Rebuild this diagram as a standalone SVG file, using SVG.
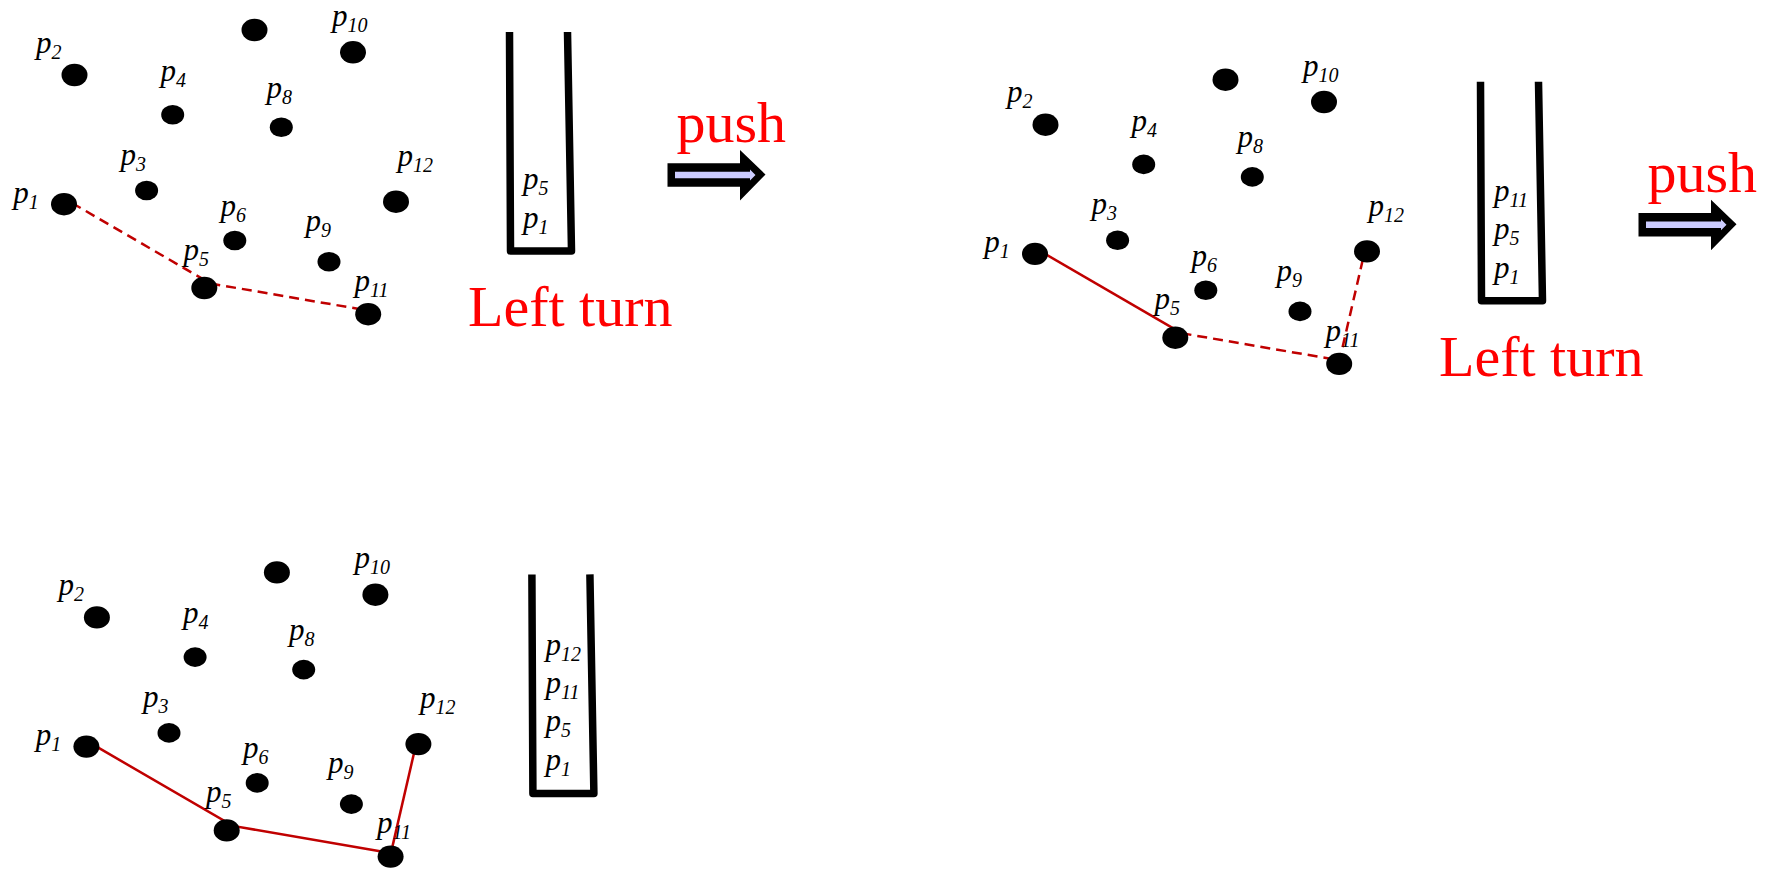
<svg xmlns="http://www.w3.org/2000/svg" xmlns:xlink="http://www.w3.org/1999/xlink" width="1777" height="869" viewBox="0 0 1777 869">
<style>
.lbl{font-family:"Liberation Serif","Times New Roman",serif;font-style:italic;font-size:31px;fill:#000}
.sub{font-size:20px}
.red{font-family:"Liberation Serif","Times New Roman",serif;font-size:58px;fill:#ff0000}
.dot{fill:#000}
.stack{fill:none;stroke:#000;stroke-width:7.5;stroke-linejoin:round}
.edge{fill:none;stroke:#c00000;stroke-width:2.5}
.dash{stroke-dasharray:10,6}
</style>
<defs>
<g id="arrowShape">
<polygon points="667.5,163.3 740,163.3 740,150 765.5,174.5 740,200.5 740,186.7 667.5,186.7" fill="#000"/>
<polygon points="675,171.7 750,171.7 750,169.5 755.5,175 750,180.5 750,178.3 675,178.3" fill="#ccccff"/>
</g>
</defs>

<!-- Panel 1 -->
<g id="panel1">
<g id="connectors1">
<polyline class="edge dash" points="72,203 210.5,283.5 362,309.5"/>
</g>
<g id="n1-p7"><ellipse class="dot" cx="254.5" cy="30" rx="13" ry="11.2"/></g>
<g id="n1-p10"><ellipse class="dot" cx="353" cy="52.3" rx="13" ry="11.2"/><text class="lbl" x="332" y="26">p<tspan class="sub" dy="6">10</tspan></text></g>
<g id="n1-p2"><ellipse class="dot" cx="74.5" cy="75" rx="13" ry="11.2"/><text class="lbl" x="36" y="52.5">p<tspan class="sub" dy="6">2</tspan></text></g>
<g id="n1-p4"><ellipse class="dot" cx="172.7" cy="114.7" rx="11.5" ry="9.8"/><text class="lbl" x="160.5" y="81">p<tspan class="sub" dy="6">4</tspan></text></g>
<g id="n1-p8"><ellipse class="dot" cx="281.3" cy="127.2" rx="11.5" ry="9.8"/><text class="lbl" x="266.5" y="97.5">p<tspan class="sub" dy="6">8</tspan></text></g>
<g id="n1-p3"><ellipse class="dot" cx="146.6" cy="190.5" rx="11.5" ry="9.8"/><text class="lbl" x="120.5" y="164.5">p<tspan class="sub" dy="6">3</tspan></text></g>
<g id="n1-p12"><ellipse class="dot" cx="396" cy="201.7" rx="13" ry="11.2"/><text class="lbl" x="397.5" y="166">p<tspan class="sub" dy="6">12</tspan></text></g>
<g id="n1-p1"><ellipse class="dot" cx="64" cy="204.2" rx="13" ry="11.2"/><text class="lbl" x="13.3" y="202.5">p<tspan class="sub" dy="6">1</tspan></text></g>
<g id="n1-p6"><ellipse class="dot" cx="234.8" cy="240.5" rx="11.5" ry="9.8"/><text class="lbl" x="220.5" y="216">p<tspan class="sub" dy="6">6</tspan></text></g>
<g id="n1-p9"><ellipse class="dot" cx="329" cy="261.7" rx="11.5" ry="9.8"/><text class="lbl" x="305.5" y="231">p<tspan class="sub" dy="6">9</tspan></text></g>
<g id="n1-p5"><ellipse class="dot" cx="204.3" cy="288" rx="13" ry="11.2"/><text class="lbl" x="183.5" y="259.5">p<tspan class="sub" dy="6">5</tspan></text></g>
<g id="n1-p11"><ellipse class="dot" cx="368.2" cy="314.2" rx="13" ry="11.2"/><text class="lbl" x="354.5" y="291">p<tspan class="sub" dy="6">11</tspan></text></g>
<g id="stack1">
<path class="stack" d="M509.5,32 L510.5,251 L571.5,251 L567.5,32"/>
<text class="lbl" x="523" y="189">p<tspan class="sub" dy="6">5</tspan></text>
<text class="lbl" x="523" y="228">p<tspan class="sub" dy="6">1</tspan></text>
</g>
<text class="red" x="468" y="326">Left turn</text>
<text class="red" x="676.5" y="142">push</text>
<g id="arrow1"><use xlink:href="#arrowShape" href="#arrowShape"/></g>
</g>

<!-- Panel 2 -->
<g id="panel2" transform="translate(971,49.7)">
<g id="connectors2">
<line class="edge" x1="72" y1="203" x2="210.5" y2="283.5"/>
<line class="edge dash" x1="210.5" y1="283.5" x2="362" y2="309.5"/>
<line class="edge dash" x1="368" y1="313" x2="395" y2="196"/>
</g>
<g id="n2-p7"><ellipse class="dot" cx="254.5" cy="30" rx="13" ry="11.2"/></g>
<g id="n2-p10"><ellipse class="dot" cx="353" cy="52.3" rx="13" ry="11.2"/><text class="lbl" x="332" y="26">p<tspan class="sub" dy="6">10</tspan></text></g>
<g id="n2-p2"><ellipse class="dot" cx="74.5" cy="75" rx="13" ry="11.2"/><text class="lbl" x="36" y="52.5">p<tspan class="sub" dy="6">2</tspan></text></g>
<g id="n2-p4"><ellipse class="dot" cx="172.7" cy="114.7" rx="11.5" ry="9.8"/><text class="lbl" x="160.5" y="81">p<tspan class="sub" dy="6">4</tspan></text></g>
<g id="n2-p8"><ellipse class="dot" cx="281.3" cy="127.2" rx="11.5" ry="9.8"/><text class="lbl" x="266.5" y="97.5">p<tspan class="sub" dy="6">8</tspan></text></g>
<g id="n2-p3"><ellipse class="dot" cx="146.6" cy="190.5" rx="11.5" ry="9.8"/><text class="lbl" x="120.5" y="164.5">p<tspan class="sub" dy="6">3</tspan></text></g>
<g id="n2-p12"><ellipse class="dot" cx="396" cy="201.7" rx="13" ry="11.2"/><text class="lbl" x="397.5" y="166">p<tspan class="sub" dy="6">12</tspan></text></g>
<g id="n2-p1"><ellipse class="dot" cx="64" cy="204.2" rx="13" ry="11.2"/><text class="lbl" x="13.3" y="202.5">p<tspan class="sub" dy="6">1</tspan></text></g>
<g id="n2-p6"><ellipse class="dot" cx="234.8" cy="240.5" rx="11.5" ry="9.8"/><text class="lbl" x="220.5" y="216">p<tspan class="sub" dy="6">6</tspan></text></g>
<g id="n2-p9"><ellipse class="dot" cx="329" cy="261.7" rx="11.5" ry="9.8"/><text class="lbl" x="305.5" y="231">p<tspan class="sub" dy="6">9</tspan></text></g>
<g id="n2-p5"><ellipse class="dot" cx="204.3" cy="288" rx="13" ry="11.2"/><text class="lbl" x="183.5" y="259.5">p<tspan class="sub" dy="6">5</tspan></text></g>
<g id="n2-p11"><ellipse class="dot" cx="368.2" cy="314.2" rx="13" ry="11.2"/><text class="lbl" x="354.5" y="291">p<tspan class="sub" dy="6">11</tspan></text></g>
<g id="stack2">
<path class="stack" d="M509.5,32 L510.5,251 L571.5,251 L567.5,32"/>
<text class="lbl" x="523" y="151">p<tspan class="sub" dy="6">11</tspan></text>
<text class="lbl" x="523" y="189">p<tspan class="sub" dy="6">5</tspan></text>
<text class="lbl" x="523" y="228">p<tspan class="sub" dy="6">1</tspan></text>
</g>
<text class="red" x="468" y="326">Left turn</text>
<text class="red" x="676.5" y="142">push</text>
<g id="arrow2"><use xlink:href="#arrowShape" href="#arrowShape"/></g>
</g>

<!-- Panel 3 -->
<g id="panel3" transform="translate(22.4,542.4)">
<g id="connectors3">
<polyline class="edge" points="72,203 210.5,283.5 362,309.5"/>
<line class="edge" x1="368" y1="313" x2="395" y2="196"/>
</g>
<g id="n3-p7"><ellipse class="dot" cx="254.5" cy="30" rx="13" ry="11.2"/></g>
<g id="n3-p10"><ellipse class="dot" cx="353" cy="52.3" rx="13" ry="11.2"/><text class="lbl" x="332" y="26">p<tspan class="sub" dy="6">10</tspan></text></g>
<g id="n3-p2"><ellipse class="dot" cx="74.5" cy="75" rx="13" ry="11.2"/><text class="lbl" x="36" y="52.5">p<tspan class="sub" dy="6">2</tspan></text></g>
<g id="n3-p4"><ellipse class="dot" cx="172.7" cy="114.7" rx="11.5" ry="9.8"/><text class="lbl" x="160.5" y="81">p<tspan class="sub" dy="6">4</tspan></text></g>
<g id="n3-p8"><ellipse class="dot" cx="281.3" cy="127.2" rx="11.5" ry="9.8"/><text class="lbl" x="266.5" y="97.5">p<tspan class="sub" dy="6">8</tspan></text></g>
<g id="n3-p3"><ellipse class="dot" cx="146.6" cy="190.5" rx="11.5" ry="9.8"/><text class="lbl" x="120.5" y="164.5">p<tspan class="sub" dy="6">3</tspan></text></g>
<g id="n3-p12"><ellipse class="dot" cx="396" cy="201.7" rx="13" ry="11.2"/><text class="lbl" x="397.5" y="166">p<tspan class="sub" dy="6">12</tspan></text></g>
<g id="n3-p1"><ellipse class="dot" cx="64" cy="204.2" rx="13" ry="11.2"/><text class="lbl" x="13.3" y="202.5">p<tspan class="sub" dy="6">1</tspan></text></g>
<g id="n3-p6"><ellipse class="dot" cx="234.8" cy="240.5" rx="11.5" ry="9.8"/><text class="lbl" x="220.5" y="216">p<tspan class="sub" dy="6">6</tspan></text></g>
<g id="n3-p9"><ellipse class="dot" cx="329" cy="261.7" rx="11.5" ry="9.8"/><text class="lbl" x="305.5" y="231">p<tspan class="sub" dy="6">9</tspan></text></g>
<g id="n3-p5"><ellipse class="dot" cx="204.3" cy="288" rx="13" ry="11.2"/><text class="lbl" x="183.5" y="259.5">p<tspan class="sub" dy="6">5</tspan></text></g>
<g id="n3-p11"><ellipse class="dot" cx="368.2" cy="314.2" rx="13" ry="11.2"/><text class="lbl" x="354.5" y="291">p<tspan class="sub" dy="6">11</tspan></text></g>
<g id="stack3">
<path class="stack" d="M509.5,32 L510.5,251 L571.5,251 L567.5,32"/>
<text class="lbl" x="523" y="112.5">p<tspan class="sub" dy="6">12</tspan></text>
<text class="lbl" x="523" y="151">p<tspan class="sub" dy="6">11</tspan></text>
<text class="lbl" x="523" y="189">p<tspan class="sub" dy="6">5</tspan></text>
<text class="lbl" x="523" y="228">p<tspan class="sub" dy="6">1</tspan></text>
</g>
</g>
</svg>
